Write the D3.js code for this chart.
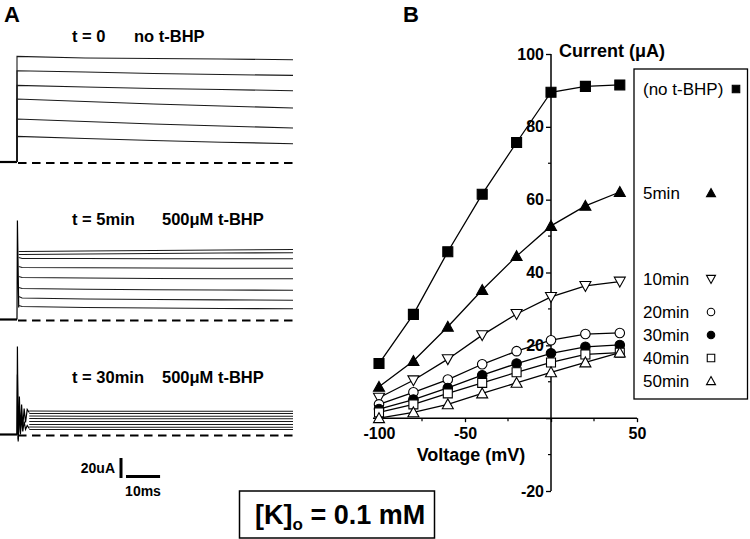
<!DOCTYPE html>
<html><head><meta charset="utf-8">
<script src="https://cdn.jsdelivr.net/npm/d3@7"></script>
<style>body{margin:0;background:#fff}svg{display:block}text{font-family:"Liberation Sans",Arial,sans-serif}</style>
</head><body><svg id="c" width="750" height="539"></svg>
<script>
// ---------- Panel B data ----------
const voltages = [-100, -80, -60, -40, -20, 0, 20, 40];
const seriesNames = ["(no t-BHP)", "5min", "10min", "20min", "30min", "40min", "50min"];
const noBHP = [15.0, 28.5, 45.7, 61.5, 75.7, 89.5, 91.1, 91.5];
const min5  = [8.6, 15.7, 25.1, 35.2, 44.5, 52.8, 58.3, 62.1];
const min10 = [5.6, 10.4, 16.2, 22.8, 28.6, 33.3, 36.3, 37.5];
const min20 = [3.8, 7.1, 10.6, 14.8, 18.4, 21.4, 23.1, 23.4];
const min30 = [2.5, 5.1, 8.3, 11.8, 15.0, 17.8, 19.6, 20.1];
const min40 = [1.6, 3.8, 6.8, 9.7, 12.6, 15.3, 17.5, 18.0];
const min50 = [0.0, 1.6, 3.8, 6.8, 9.7, 12.6, 15.3, 18.0];
const xMajorTicks = [-100, -50, 0, 50];
const xMinorTicks = [-75, -25, 25];
const yMajorTicks = [-20, 0, 20, 40, 60, 80, 100];
const yMinorTicks = [-10, 10, 30, 50, 70, 90];

// ---------- Panel A data (current in uA vs time in ms) ----------
const preTimes = [-5, 0];
const topTimes = [0, 20, 40, 60, 81];
const topTraces = [
  [105.6, 104.0, 103.5, 103.0, 102.3],
  [91.3, 90.0, 88.5, 87.5, 86.6],
  [76.6, 75.0, 73.5, 72.5, 71.3],
  [63.0, 60.5, 58.0, 56.0, 54.0],
  [43.0, 40.5, 38.0, 36.0, 34.0],
  [25.6, 23.5, 21.5, 19.8, 18.3]
];
const midSpikeTimes = [0, 0.12, 0.5];
const midSpike = [0, 99, 12];
const midTimes = [0.5, 1.5, 20, 40, 60, 81];
const midTraces = [
  [68, 68, 68.5, 69, 69.5, 70],
  [65, 65, 65.5, 66, 66.5, 66.7],
  [62, 61, 61, 60.8, 60.7, 60.7],
  [53, 52, 51.7, 51.5, 51.3, 51.3],
  [43, 42, 41.5, 41, 40.8, 40.7],
  [32, 31, 30.3, 29.8, 29.5, 29.3],
  [23, 21.5, 20.5, 20, 19.6, 19.3],
  [14, 13, 12, 11.5, 11, 10.7]
];
const botRingTimes = [0, 0.12, 0.35, 0.7, 1.0, 1.35, 1.7, 2.1, 2.5, 3.0, 3.6];
const botRingA = [0, 88, -7, 38, 2, 30, 8, 26, 12, 25, 22];
const botRingB = [0, 60, -5, 24, 0, 18, 3, 13, 5, 9, 6];
const botTimes = [3.6, 20, 40, 60, 81];
const botTraces = [
  [23.5, 23.3, 23.3, 23.3, 23.3],
  [21.0, 21.0, 21.0, 21.0, 21.0],
  [18.5, 18.3, 18.3, 18.3, 18.3],
  [16.0, 15.7, 15.7, 15.7, 15.7],
  [13.0, 13.0, 13.0, 13.0, 13.0],
  [10.0, 10.0, 10.0, 10.0, 10.0],
  [7.5, 7.3, 7.3, 7.3, 7.3],
  [5.0, 5.0, 5.0, 5.0, 5.0]
];
const scaleBarCurrent = 20; // uA
const scaleBarTime = 10;    // ms

const svg = d3.select("#c");
const font = '"Liberation Sans", Arial, sans-serif';

// ================= Panel A =================
svg.append("text").attr("x", 4).attr("y", 22).attr("font-size", 22).attr("font-weight", "bold").text("A");

const tA = d3.scaleLinear().domain([0, 81]).range([17, 293]);
const panels = [
  {base: 162, traces: topTraces, times: topTimes, t1: "t = 0", t2: "no t-BHP", ty: 42},
  {base: 319.5, traces: midTraces, times: midTimes, t1: "t = 5min", t2: "500μM t-BHP", ty: 225, spikeT: midSpikeTimes, spikes: [midSpike]},
  {base: 434.5, traces: botTraces, times: botTimes, t1: "t = 30min", t2: "500μM t-BHP", ty: 383, spikeT: botRingTimes, spikes: [botRingA, botRingB]}
];
panels.forEach((p, pi) => {
  const y = d3.scaleLinear().domain([0, 110]).range([p.base, p.base - 110]);
  const line = d3.line().x(d => tA(d[0])).y(d => y(d[1]));
  svg.append("path").attr("d", line(preTimes.map(t => [t, 0])))
    .attr("fill", "none").attr("stroke", "#000").attr("stroke-width", 2.2);
  svg.append("path").attr("d", line([[0.3, 0], [81, 0]]))
    .attr("transform", "translate(0,1)")
    .attr("fill", "none").attr("stroke", "#000").attr("stroke-width", 2).attr("stroke-dasharray", "8.5,5.5");
  if (p.spikes) p.spikes.forEach(s => {
    svg.append("path").attr("d", line(p.spikeT.map((t, i) => [t, s[i]])))
      .attr("fill", "none").attr("stroke", "#000").attr("stroke-width", 1.2);
  });
  p.traces.forEach(tr => {
    let pts = p.times.map((t, i) => [t, tr[i]]);
    if (pi === 0) pts = [[0, 0]].concat(pts);
    svg.append("path").attr("d", line(pts))
      .attr("fill", "none").attr("stroke", "#1a1a1a").attr("stroke-width", 1.1);
  });
  svg.append("text").attr("x", 72).attr("y", p.ty).attr("font-size", 16.5).attr("font-weight", "bold").text(p.t1);
  svg.append("text").attr("x", pi === 0 ? 134 : 162).attr("y", p.ty).attr("font-size", 16.5).attr("font-weight", "bold").text(p.t2);
});

// scale bars
const yBar = d3.scaleLinear().domain([0, 110]).range([478, 368]);
svg.append("line").attr("x1", 121).attr("x2", 121).attr("y1", yBar(0)).attr("y2", yBar(scaleBarCurrent))
  .attr("stroke", "#000").attr("stroke-width", 3);
svg.append("line").attr("x1", tA(0) + 109).attr("x2", tA(scaleBarTime) + 109).attr("y1", 476.5).attr("y2", 476.5)
  .attr("stroke", "#000").attr("stroke-width", 3);
svg.append("text").attr("x", 115).attr("y", 473).attr("text-anchor", "end").attr("font-size", 14).attr("font-weight", "bold").text("20uA");
svg.append("text").attr("x", 143).attr("y", 496).attr("text-anchor", "middle").attr("font-size", 14).attr("font-weight", "bold").text("10ms");

// [K]o box
svg.append("rect").attr("x", 239.5).attr("y", 491).attr("width", 195).attr("height", 47)
  .attr("fill", "none").attr("stroke", "#000").attr("stroke-width", 1.5);
const kt = svg.append("text").attr("x", 255).attr("y", 524).attr("font-size", 27).attr("font-weight", "bold");
kt.append("tspan").text("[K]");
kt.append("tspan").attr("font-size", 17).attr("dy", 6).text("o");
kt.append("tspan").attr("dy", -6).text(" = 0.1 mM");

// ================= Panel B =================
svg.append("text").attr("x", 403).attr("y", 22).attr("font-size", 22).attr("font-weight", "bold").text("B");

const xB = d3.scaleLinear().domain([-100, 50]).range([379, 637]);
const yB = d3.scaleLinear().domain([-20, 100]).range([491, 54]);

const series = [
  {vals: noBHP, sym: "sq", fill: "#000"},
  {vals: min5, sym: "tri", fill: "#000"},
  {vals: min10, sym: "trid", fill: "#fff"},
  {vals: min20, sym: "circ", fill: "#fff"},
  {vals: min30, sym: "circ", fill: "#000"},
  {vals: min40, sym: "sq", fill: "#fff"},
  {vals: min50, sym: "tri", fill: "#fff"}
];
function symPath(sym, s) {
  if (sym === "sq") return d3.symbol(d3.symbolSquare, s * s)();
  if (sym === "circ") return d3.symbol(d3.symbolCircle, Math.PI * s * s / 4)();
  const h = s * 0.9;
  if (sym === "tri") return `M0,${-h * 0.55}L${s / 2},${h * 0.45}L${-s / 2},${h * 0.45}Z`;
  return `M0,${h * 0.55}L${s / 2},${-h * 0.45}L${-s / 2},${-h * 0.45}Z`;
}
const lineB = d3.line().x((d, i) => xB(voltages[i])).y(d => yB(d));
series.forEach(s => {
  svg.append("path").attr("d", lineB(s.vals)).attr("fill", "none").attr("stroke", "#000").attr("stroke-width", 1.3);
});

const lbl = d => d === 0 ? "" : String(d);
const gx = svg.append("g").attr("transform", `translate(0,${yB(0)})`);
gx.call(d3.axisBottom(xB).tickValues(xMajorTicks).tickSize(4).tickPadding(5).tickFormat(lbl));
gx.select(".domain").remove();
gx.append("line").attr("x1", xB(-103.5)).attr("x2", xB(50)).attr("stroke", "#000").attr("stroke-width", 1.5);
xMinorTicks.forEach(v => gx.append("line").attr("x1", xB(v)).attr("x2", xB(v)).attr("y1", 0).attr("y2", 3).attr("stroke", "#000").attr("stroke-width", 1.2));
gx.selectAll(".tick line").attr("stroke-width", 1.3);
gx.selectAll("text").attr("font-size", 16).attr("font-weight", "bold").attr("font-family", font).attr("fill", "#000");

const gy = svg.append("g").attr("transform", `translate(${xB(0)},0)`);
gy.call(d3.axisLeft(yB).tickValues(yMajorTicks).tickSize(5).tickPadding(2).tickFormat(lbl));
gy.select(".domain").remove();
gy.append("line").attr("y1", yB(-20)).attr("y2", yB(100)).attr("stroke", "#000").attr("stroke-width", 1.5);
yMinorTicks.forEach(v => gy.append("line").attr("y1", yB(v)).attr("y2", yB(v)).attr("x1", 0).attr("x2", -3).attr("stroke", "#000").attr("stroke-width", 1.2));
gy.selectAll(".tick line").attr("stroke-width", 1.3);
gy.selectAll("text").attr("font-size", 16).attr("font-weight", "bold").attr("font-family", font).attr("fill", "#000");

series.forEach(s => {
  const size = s.sym === "sq" ? (s.fill === "#000" ? 10 : 9) : s.sym === "circ" ? 9.5 : 11;
  svg.append("g").selectAll("path").data(s.vals).join("path")
    .attr("d", symPath(s.sym, size))
    .attr("transform", (d, i) => `translate(${xB(voltages[i])},${yB(d)})`)
    .attr("fill", s.fill).attr("stroke", "#000").attr("stroke-width", 1.1);
});

svg.append("text").attr("x", 471).attr("y", 461).attr("text-anchor", "middle").attr("font-size", 18).attr("font-weight", "bold").text("Voltage (mV)");
svg.append("text").attr("x", 559).attr("y", 57).attr("font-size", 18).attr("font-weight", "bold").text("Current (μA)");

svg.append("rect").attr("x", 634).attr("y", 69).attr("width", 113.5).attr("height", 330)
  .attr("fill", "#fff").attr("stroke", "#000").attr("stroke-width", 1.3);
const legY = [89, 193, 279, 312, 335, 358, 381];
series.forEach((s, i) => {
  svg.append("text").attr("x", 643).attr("y", legY[i] + 6).attr("font-size", 17).text(seriesNames[i]);
  const lx = i === 0 ? 736 : 711;
  const size = s.sym === "sq" ? 7.5 : s.sym === "circ" ? 7.5 : 9;
  svg.append("path").attr("d", symPath(s.sym, size)).attr("transform", `translate(${lx},${legY[i]})`)
    .attr("fill", s.fill).attr("stroke", "#000").attr("stroke-width", 1.1);
});
</script></body></html>
